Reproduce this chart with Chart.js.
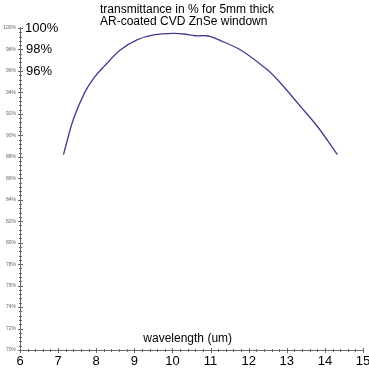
<!DOCTYPE html>
<html>
<head>
<meta charset="utf-8">
<script src="https://cdn.jsdelivr.net/npm/chart.js@4"></script>
<style>
html,body{margin:0;padding:0;background:#fff;}
#wrap{width:369px;height:372px;position:relative;}
</style>
</head>
<body>
<div id="wrap"><canvas id="c" width="369" height="372"></canvas></div>
<script>
const wavelength = [7.14, 7.40, 7.70, 7.95, 8.20, 8.63, 9.07, 9.51, 10.03, 10.30, 10.60, 10.87, 11.00, 11.25, 11.79, 12.49, 12.84, 13.37, 13.81, 14.33];
const transmittance = [88.2, 91.5, 94.0, 95.4, 96.4, 97.95, 98.9, 99.35, 99.5, 99.44, 99.28, 99.28, 99.2, 98.85, 97.95, 96.1, 94.85, 92.65, 90.8, 88.2];
const xTicks = [6, 7, 8, 9, 10, 11, 12, 13, 14, 15];
const yTicks = [70, 72, 74, 76, 78, 80, 82, 84, 86, 88, 90, 92, 94, 96, 98, 100];
const bigLabels = ["100%", "98%", "96%"];
const bigLabelValues = [100, 98, 96];
const titleLines = ["transmittance in % for 5mm thick", "AR-coated CVD ZnSe windown"];
const xTitle = "wavelength (um)";

const points = wavelength.map((w, i) => ({x: w, y: transmittance[i]}));

const axesPlugin = {
  id: 'axesPlugin',
  afterDraw(chart) {
    const ctx = chart.ctx;
    const xs = chart.scales.x, ys = chart.scales.y;
    const a = chart.chartArea;
    ctx.save();
    ctx.strokeStyle = '#6a6a6a';
    ctx.lineWidth = 1;
    ctx.beginPath();
    ctx.moveTo(a.left + 0.5, a.top - 1);
    ctx.lineTo(a.left + 0.5, a.bottom + 0.5);
    ctx.lineTo(a.right + 0.5, a.bottom + 0.5);
    ctx.stroke();
    ctx.beginPath();
    for (let v = 70; v <= 100.001; v += 0.4) {
      const py = Math.round(ys.getPixelForValue(v)) + 0.5;
      ctx.moveTo(a.left - 1, py); ctx.lineTo(a.left + 2, py);
    }
    yTicks.forEach(v => {
      const py = Math.round(ys.getPixelForValue(v)) + 0.5;
      ctx.moveTo(a.left - 2, py); ctx.lineTo(a.left + 3, py);
    });
    for (let v = 6; v <= 15.001; v += 0.2) {
      const px = Math.round(xs.getPixelForValue(v)) + 0.5;
      ctx.moveTo(px, a.bottom - 1); ctx.lineTo(px, a.bottom + 2);
    }
    xTicks.forEach(v => {
      const px = Math.round(xs.getPixelForValue(v)) + 0.5;
      ctx.moveTo(px, a.bottom - 2); ctx.lineTo(px, a.bottom + 3);
    });
    ctx.stroke();
    ctx.fillStyle = '#666';
    ctx.font = '5px "Liberation Sans", Arial, sans-serif';
    ctx.textAlign = 'right';
    ctx.textBaseline = 'middle';
    yTicks.forEach(v => {
      ctx.fillText(v + '%', a.left - 4, ys.getPixelForValue(v));
    });
    ctx.fillStyle = '#000';
    ctx.font = '13px "Liberation Sans", Arial, sans-serif';
    ctx.textAlign = 'center';
    ctx.textBaseline = 'middle';
    xTicks.forEach(v => {
      ctx.fillText(String(v), xs.getPixelForValue(v), a.bottom + 11);
    });
    ctx.font = '13px "Liberation Sans", Arial, sans-serif';
    ctx.textAlign = 'left';
    bigLabels.forEach((t, i) => {
      ctx.fillText(t, a.left + 5 + (i === 0 ? 0 : 1), ys.getPixelForValue(bigLabelValues[i]));
    });
    ctx.font = '12px "Liberation Sans", Arial, sans-serif';
    ctx.textBaseline = 'middle';
    titleLines.forEach((t, i) => ctx.fillText(t, 100, 10 + i * 12));
    ctx.textAlign = 'center';
    ctx.font = '12px "Liberation Sans", Arial, sans-serif';
    ctx.fillText(xTitle, xs.getPixelForValue(10.4), ys.getPixelForValue(71.1));
    ctx.restore();
  }
};

new Chart(document.getElementById('c'), {
  type: 'scatter',
  data: {
    datasets: [{
      data: points,
      showLine: true,
      borderColor: '#3d3d8f',
      borderWidth: 1.3,
      pointRadius: 0,
      fill: false,
      tension: 0.3
    }]
  },
  options: {
    responsive: false,
    animation: false,
    devicePixelRatio: 1,
    layout: {padding: {left: 20, right: 6, top: 28, bottom: 22}},
    plugins: {legend: {display: false}, tooltip: {enabled: false}, title: {display: false}},
    scales: {
      x: {type: 'linear', min: 6, max: 15, display: false},
      y: {type: 'linear', min: 70, max: 100, display: false}
    }
  },
  plugins: [axesPlugin]
});
</script>
</body>
</html>
